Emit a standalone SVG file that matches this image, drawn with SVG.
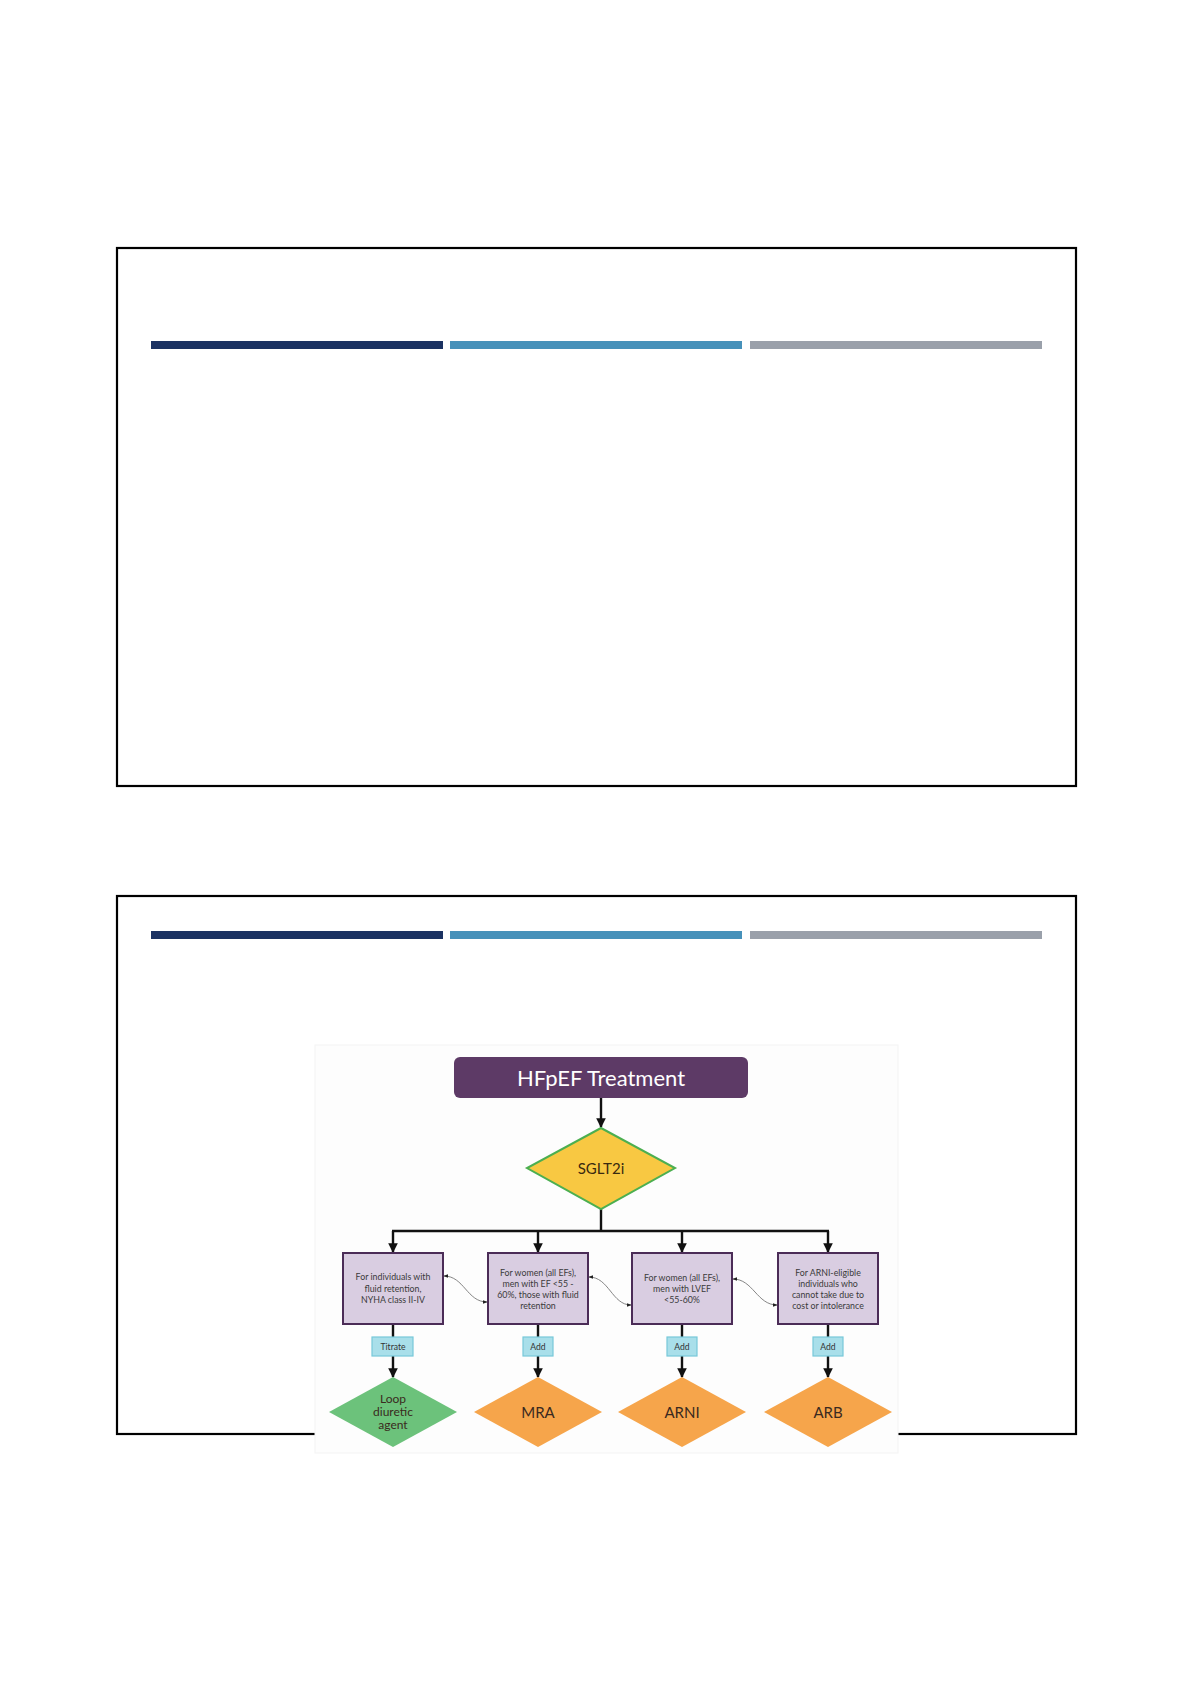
<svg xmlns="http://www.w3.org/2000/svg" width="1191" height="1685" viewBox="0 0 1191 1685">
<defs>
<style>
.slide{fill:none;stroke:#000;stroke-width:2.2}
.b1{fill:#1b3262}.b2{fill:#4691ba}.b3{fill:#9aa0aa}
.ft{font-family:Lato,"Open Sans","Liberation Sans",sans-serif;text-anchor:middle}
.crit{fill:#d9cde1;stroke:#4b2c57;stroke-width:2}
.ct{font-size:8.8px;fill:#3a3a3a}
.lab{fill:#a9dfea;stroke:#78c9d9;stroke-width:1.2}
.lt{font-size:8.6px;fill:#333}
.dg{fill:#6cc27b}
.do{fill:#f6a54b}
.dt{font-size:12px;fill:#3a2a20}
.conn{fill:none;stroke:#111;stroke-width:2.4}
.curve{fill:none;stroke:#777;stroke-width:0.9}
</style>
<marker id="ah" viewBox="0 0 10 10" refX="9" refY="5" markerWidth="4" markerHeight="4" orient="auto" markerUnits="strokeWidth">
<path d="M0,0 L10,5 L0,10 z" fill="#111"/>
</marker>
<marker id="sh" viewBox="0 0 10 10" refX="9" refY="5" markerWidth="5" markerHeight="5" orient="auto-start-reverse" markerUnits="strokeWidth">
<path d="M0,1 L10,5 L0,9 z" fill="#222"/>
</marker>
</defs>

<g id="slide1">
<rect class="slide" x="117" y="248" width="959" height="538"/>
<rect class="b1" x="151" y="341" width="292" height="8"/>
<rect class="b2" x="450" y="341" width="292" height="8"/>
<rect class="b3" x="750" y="341" width="292" height="8"/>
</g>

<g id="slide2">
<rect class="slide" x="117" y="896" width="959" height="538"/>
<rect class="b1" x="151" y="931" width="292" height="8"/>
<rect class="b2" x="450" y="931" width="292" height="8"/>
<rect class="b3" x="750" y="931" width="292" height="8"/>
</g>

<rect id="flow-bg" x="315" y="1045" width="583" height="408" fill="#fdfdfd" stroke="#f3f3f3" stroke-width="1"/>

<g id="connectors">
<line class="conn" x1="601" y1="1098" x2="601" y2="1127" marker-end="url(#ah)"/>
<polyline class="conn" points="601,1209 601,1231"/>
<line class="conn" x1="392" y1="1231" x2="829" y2="1231"/>
<line class="conn" x1="393" y1="1231" x2="393" y2="1252" marker-end="url(#ah)"/>
<line class="conn" x1="538" y1="1231" x2="538" y2="1252" marker-end="url(#ah)"/>
<line class="conn" x1="682" y1="1231" x2="682" y2="1252" marker-end="url(#ah)"/>
<line class="conn" x1="828" y1="1231" x2="828" y2="1252" marker-end="url(#ah)"/>
<line class="conn" x1="393" y1="1324" x2="393" y2="1337"/>
<line class="conn" x1="538" y1="1324" x2="538" y2="1337"/>
<line class="conn" x1="682" y1="1324" x2="682" y2="1337"/>
<line class="conn" x1="828" y1="1324" x2="828" y2="1337"/>
<line class="conn" x1="393" y1="1356" x2="393" y2="1377" marker-end="url(#ah)"/>
<line class="conn" x1="538" y1="1356" x2="538" y2="1377" marker-end="url(#ah)"/>
<line class="conn" x1="682" y1="1356" x2="682" y2="1377" marker-end="url(#ah)"/>
<line class="conn" x1="828" y1="1356" x2="828" y2="1377" marker-end="url(#ah)"/>
<path class="curve" d="M444,1276 C464,1276 467,1302 487,1302" marker-start="url(#sh)" marker-end="url(#sh)"/>
<path class="curve" d="M589,1277 C609,1277 612,1305 631,1305" marker-start="url(#sh)" marker-end="url(#sh)"/>
<path class="curve" d="M733,1279 C753,1279 757,1305 777,1305" marker-start="url(#sh)" marker-end="url(#sh)"/>
</g>

<g id="hfpef">
<rect x="454" y="1057" width="294" height="41" rx="6" fill="#5d3a66"/>
<text class="ft" x="601" y="1086" font-size="22" fill="#ffffff">HFpEF Treatment</text>
</g>

<g id="sglt2i">
<polygon points="601,1128 675,1168 601,1209 527,1168" fill="#f8c842" stroke="#4caf50" stroke-width="2"/>
<text class="ft" x="601" y="1174" font-size="15" fill="#3a2a10">SGLT2i</text>
</g>

<g id="crit1">
<rect class="crit" x="343" y="1253" width="100" height="71"/>
<text class="ft ct" x="393"><tspan x="393" y="1280">For individuals with</tspan><tspan x="393" y="1291.5">fluid retention,</tspan><tspan x="393" y="1303">NYHA class II-IV</tspan></text>
</g>
<g id="crit2">
<rect class="crit" x="488" y="1253" width="100" height="71"/>
<text class="ft ct" x="538"><tspan x="538" y="1276">For women (all EFs),</tspan><tspan x="538" y="1287">men with EF &lt;55 -</tspan><tspan x="538" y="1298">60%, those with fluid</tspan><tspan x="538" y="1309">retention</tspan></text>
</g>
<g id="crit3">
<rect class="crit" x="632" y="1253" width="100" height="71"/>
<text class="ft ct" x="682"><tspan x="682" y="1281">For women (all EFs),</tspan><tspan x="682" y="1292">men with LVEF</tspan><tspan x="682" y="1303">&lt;55-60%</tspan></text>
</g>
<g id="crit4">
<rect class="crit" x="778" y="1253" width="100" height="71"/>
<text class="ft ct" x="828"><tspan x="828" y="1276">For ARNI-eligible</tspan><tspan x="828" y="1287">individuals who</tspan><tspan x="828" y="1298">cannot take due to</tspan><tspan x="828" y="1309">cost or intolerance</tspan></text>
</g>

<g id="lab1"><rect class="lab" x="372" y="1337" width="41" height="19"/><text class="ft lt" x="393" y="1349.5">Titrate</text></g>
<g id="lab2"><rect class="lab" x="523" y="1337" width="30" height="19"/><text class="ft lt" x="538" y="1349.5">Add</text></g>
<g id="lab3"><rect class="lab" x="667" y="1337" width="30" height="19"/><text class="ft lt" x="682" y="1349.5">Add</text></g>
<g id="lab4"><rect class="lab" x="813" y="1337" width="30" height="19"/><text class="ft lt" x="828" y="1349.5">Add</text></g>

<g id="loop">
<polygon class="dg" points="393,1377 457,1412 393,1447 329,1412"/>
<text class="ft dt" x="393"><tspan x="393" y="1403">Loop</tspan><tspan x="393" y="1416">diuretic</tspan><tspan x="393" y="1429">agent</tspan></text>
</g>
<g id="mra">
<polygon class="do" points="538,1377 602,1412 538,1447 474,1412"/>
<text class="ft" x="538" y="1418" font-size="15" fill="#3a2a20">MRA</text>
</g>
<g id="arni">
<polygon class="do" points="682,1377 746,1412 682,1447 618,1412"/>
<text class="ft" x="682" y="1418" font-size="15" fill="#3a2a20">ARNI</text>
</g>
<g id="arb">
<polygon class="do" points="828,1377 892,1412 828,1447 764,1412"/>
<text class="ft" x="828" y="1418" font-size="15" fill="#3a2a20">ARB</text>
</g>
</svg>
